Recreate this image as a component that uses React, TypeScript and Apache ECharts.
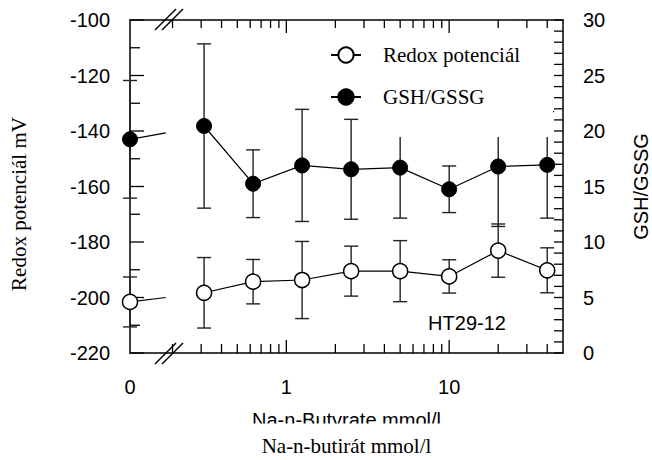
import React, { useEffect, useRef } from 'react';
import * as echarts from 'echarts';

// ---- data ----
const concentrations = [0, 0.3125, 0.625, 1.25, 2.5, 5, 10, 20, 40];
const redoxMean = [-201.6, -198.3, -194.3, -193.7, -190.5, -190.5, -192.4, -183.1, -190.2];
const redoxErr = [9.0, 12.7, 8.0, 13.9, 9.0, 11.0, 6.0, 9.6, 8.1];
const gshMean = [19.25, 20.45, 15.25, 16.9, 16.55, 16.7, 14.75, 16.8, 16.95];
const gshErr = [5.3, 7.4, 3.05, 5.05, 4.5, 4.55, 2.1, 5.4, 4.8];
const xTickLabels = ['0', '1', '10'];
const xLabelConcs = [0, 1, 10];
const minorTickConcs = [0.2, 0.3, 0.4, 0.5, 0.6, 0.7, 0.8, 0.9, 2, 3, 4, 5, 6, 7, 8, 9, 20, 30, 40];
const majorTickConcs = [1, 10];
const leftMajorTicks = [-220, -200, -180, -160, -140, -120, -100];
const leftMinorTicks = [-210, -190, -170, -150, -130, -110];
const rightTicks = Array.from({ length: 31 }, (_, i) => i);

// ---- axis transform (log scale with a break for zero) ----
const X_ZERO = -0.96;
const X_MAX = Math.log10(50);
const X_BREAK = -0.74;
const Y_MIN = -220;
const Y_MAX = -100;
const xPos = (c: number) => (c === 0 ? X_ZERO : Math.log10(c));

const SANS = '"Liberation Sans", Arial, sans-serif';
const SERIF = '"Liberation Serif", "Times New Roman", serif';

function stub(mean: number[]) {
  const x1 = xPos(concentrations[1]);
  const frac = (X_BREAK - X_ZERO) / (x1 - X_ZERO);
  return [
    [X_ZERO, mean[0]],
    { value: [X_BREAK, mean[0] + (mean[1] - mean[0]) * frac], symbol: 'none' },
  ];
}

function errorRender(params: any, api: any) {
  const x = api.value(0);
  const lo = api.coord([x, api.value(1)]);
  const hi = api.coord([x, api.value(2)]);
  const w = 7;
  const style = { stroke: '#222', lineWidth: 1.4 };
  return {
    type: 'group',
    children: [
      { type: 'line', shape: { x1: lo[0], y1: lo[1], x2: hi[0], y2: hi[1] }, style },
      { type: 'line', shape: { x1: lo[0] - w, y1: lo[1], x2: lo[0] + w, y2: lo[1] }, style },
      { type: 'line', shape: { x1: hi[0] - w, y1: hi[1], x2: hi[0] + w, y2: hi[1] }, style },
    ],
  };
}

// tick mark: anchored at a data point on an axis, extending dx/dy pixels inward
function tickRender(params: any, api: any) {
  const p = api.coord([api.value(0), api.value(1)]);
  const dx = api.value(2);
  const dy = api.value(3);
  return {
    type: 'line',
    shape: { x1: p[0], y1: p[1], x2: p[0] + dx, y2: p[1] + dy },
    style: { stroke: '#000', lineWidth: 1.3 },
  };
}

export default function App() {
  const ref = useRef<HTMLDivElement>(null);
  useEffect(() => {
    if (!ref.current) return;
    const chart = echarts.init(ref.current, null, { renderer: 'svg' });
    const mkLine = () => ({ show: true, onZero: false, lineStyle: { color: '#000', width: 1.5 } });
    const labelPos = xLabelConcs.map(xPos);
    const openSymbol = { color: '#fff', borderColor: '#000', borderWidth: 1.5 };
    const filledSymbol = { color: '#000', borderColor: '#000', borderWidth: 1 };
    const lineStyle = { color: '#000', width: 1.2 };

    const xTickData = [
      ...minorTickConcs.map((c) => [xPos(c), Y_MIN, 0, -9]),
      ...majorTickConcs.map((c) => [xPos(c), Y_MIN, 0, -13]),
      ...minorTickConcs.map((c) => [xPos(c), Y_MAX, 0, 8]),
      ...majorTickConcs.map((c) => [xPos(c), Y_MAX, 0, 13]),
      ...leftMajorTicks.map((v) => [X_ZERO, v, 14, 0]),
      ...leftMinorTicks.map((v) => [X_ZERO, v, 10, 0]),
    ];
    const rightTickData = rightTicks.map((v) => [X_MAX, v, -9, 0]);

    chart.setOption({
      animation: false,
      grid: { left: 130, right: 89, top: 20, bottom: 107, outerBoundsMode: 'none' },
      legend: {
        data: ['Redox potenciál', 'GSH/GSSG'],
        orient: 'vertical',
        left: 330,
        top: 43,
        itemWidth: 30,
        itemHeight: 19,
        itemGap: 18,
        padding: 0,
        z: 20,
        selectedMode: false,
        textStyle: { fontFamily: SERIF, fontSize: 21, color: '#000', lineHeight: 24, padding: [0, 0, 0, 17] },
      },
      xAxis: [
        {
          type: 'value', min: X_ZERO, max: X_MAX, splitLine: { show: false },
          position: 'bottom',
          axisLine: mkLine(),
          axisTick: { show: false },
          axisLabel: {
            show: true, margin: 24, fontFamily: SANS, fontSize: 20, color: '#000',
            customValues: labelPos,
            formatter: (v: number) => {
              const i = labelPos.findIndex((p) => Math.abs(p - v) < 1e-6);
              return i >= 0 ? xTickLabels[i] : '';
            },
          },
          name: 'Na-n-butirát mmol/l',
          nameLocation: 'middle',
          nameGap: 82,
          nameTextStyle: { fontFamily: SERIF, fontSize: 21, color: '#000' },
        },
        {
          type: 'value', min: X_ZERO, max: X_MAX, splitLine: { show: false },
          position: 'top',
          axisLine: mkLine(),
          axisTick: { show: false },
          axisLabel: { show: false },
        },
      ],
      yAxis: [
        {
          type: 'value', position: 'left', min: Y_MIN, max: Y_MAX, interval: 20,
          axisLine: mkLine(),
          splitLine: { show: false },
          axisTick: { show: false },
          axisLabel: { margin: 20, fontFamily: SANS, fontSize: 20, color: '#000' },
        },
        {
          type: 'value', position: 'right', min: 0, max: 30, interval: 5,
          axisLine: mkLine(),
          splitLine: { show: false },
          axisTick: { show: false },
          axisLabel: { margin: 20, fontFamily: SANS, fontSize: 20, color: '#000' },
          name: 'GSH/GSSG',
          nameLocation: 'middle',
          nameGap: 68,
          nameTextStyle: { fontFamily: SANS, fontSize: 20, color: '#000' },
        },
      ],
      series: [
        {
          type: 'custom', name: 'ticksLeft', yAxisIndex: 0, z: 2, silent: true, clip: false,
          renderItem: tickRender, encode: { x: 0, y: 1 }, data: xTickData,
        },
        {
          type: 'custom', name: 'ticksRight', yAxisIndex: 1, z: 2, silent: true, clip: false,
          renderItem: tickRender, encode: { x: 0, y: 1 }, data: rightTickData,
        },
        {
          type: 'custom', name: 'redoxErr', yAxisIndex: 0, z: 1, renderItem: errorRender, encode: { x: 0, y: [1, 2] },
          data: concentrations.map((c, i) => [xPos(c), redoxMean[i] - redoxErr[i], redoxMean[i] + redoxErr[i]]),
        },
        {
          type: 'custom', name: 'gshErr', yAxisIndex: 1, z: 1, renderItem: errorRender, encode: { x: 0, y: [1, 2] },
          data: concentrations.map((c, i) => [xPos(c), gshMean[i] - gshErr[i], gshMean[i] + gshErr[i]]),
        },
        {
          type: 'line', name: 'redoxStub', yAxisIndex: 0, z: 3, symbol: 'circle', symbolSize: 15,
          itemStyle: openSymbol, lineStyle, data: stub(redoxMean),
        },
        {
          type: 'line', name: 'gshStub', yAxisIndex: 1, z: 3, symbol: 'circle', symbolSize: 15,
          itemStyle: filledSymbol, lineStyle, data: stub(gshMean),
        },
        {
          type: 'line', name: 'Redox potenciál', yAxisIndex: 0, z: 3, symbol: 'circle', symbolSize: 15,
          itemStyle: openSymbol, lineStyle,
          data: concentrations.slice(1).map((c, i) => [xPos(c), redoxMean[i + 1]]),
        },
        {
          type: 'line', name: 'GSH/GSSG', yAxisIndex: 1, z: 3, symbol: 'circle', symbolSize: 15,
          itemStyle: filledSymbol, lineStyle,
          data: concentrations.slice(1).map((c, i) => [xPos(c), gshMean[i + 1]]),
        },
      ],
      graphic: [
        { type: 'rect', z: 10, shape: { x: 372, y: 36, width: 181, height: 101 }, style: { fill: '#fff' } },
        { type: 'line', z: 15, shape: { x1: 155, y1: 30, x2: 176, y2: 9 }, style: { stroke: '#000', lineWidth: 1.4 } },
        { type: 'line', z: 15, shape: { x1: 162, y1: 30, x2: 183, y2: 9 }, style: { stroke: '#000', lineWidth: 1.4 } },
        { type: 'line', z: 15, shape: { x1: 155, y1: 364, x2: 176, y2: 343 }, style: { stroke: '#000', lineWidth: 1.4 } },
        { type: 'line', z: 15, shape: { x1: 162, y1: 364, x2: 183, y2: 343 }, style: { stroke: '#000', lineWidth: 1.4 } },
        {
          type: 'text', z: 15, x: 19, y: 204, rotation: Math.PI / 2,
          style: { text: 'Redox potenciál mV', fontFamily: SERIF, fontSize: 21, fill: '#000', align: 'center', verticalAlign: 'middle' },
        },
        {
          type: 'text', z: 15, x: 467, y: 323,
          style: { text: 'HT29-12', fontFamily: SANS, fontSize: 20, fill: '#000', align: 'center', verticalAlign: 'middle' },
        },
        {
          type: 'text', z: 15, x: 346.5, y: 419.5,
          style: { text: 'Na-n-Butyrate mmol/l', fontFamily: SANS, fontSize: 20, fill: '#000', align: 'center', verticalAlign: 'middle' },
        },
        { type: 'rect', z: 16, shape: { x: 236, y: 423.5, width: 222, height: 11 }, style: { fill: '#fff' } },
      ],
    });
    return () => chart.dispose();
  }, []);
  return <div ref={ref} style={{ width: 652, height: 460, position: 'absolute', left: 0, top: 0 }} />;
}
